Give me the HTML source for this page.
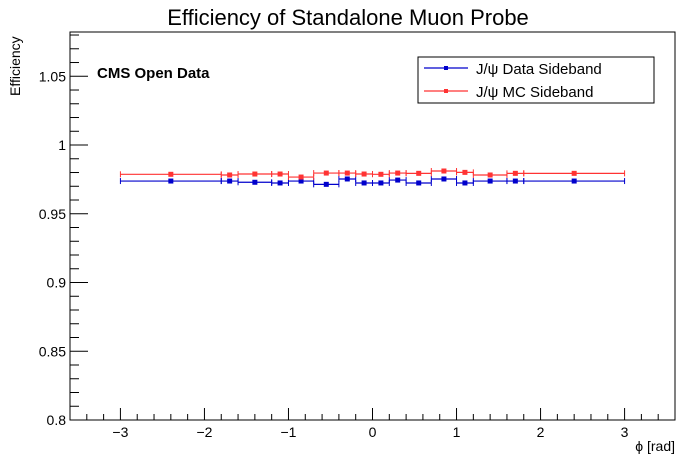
<!DOCTYPE html>
<html><head><meta charset="utf-8"><style>
body{margin:0;background:#fff;}
svg{display:block;font-family:"Liberation Sans",sans-serif;}
</style></head><body>
<svg id="c" width="696" height="472">
<rect x="0" y="0" width="696" height="472" fill="#fff"/>
<text x="348" y="25" text-anchor="middle" font-size="22">Efficiency of Standalone Muon Probe</text>
<g id="axes"></g>
<g id="marks"></g>
<text x="97" y="78" font-size="15" font-weight="bold">CMS Open Data</text>
<text transform="translate(20,96) rotate(-90)" font-size="14">Efficiency</text>
<text x="675" y="451" text-anchor="end" font-size="14">ϕ [rad]</text>
<g>
<rect x="418" y="57" width="236" height="46" fill="#fff" stroke="#000" stroke-width="1"/>
<g>
<line x1="424" y1="68" x2="468" y2="68" stroke="#0000cc" stroke-width="1.2"/>
<rect x="444" y="66" width="4" height="4" fill="#0000cc"/>
<text x="476" y="74" font-size="15">J/ψ Data Sideband</text></g>
<g>
<line x1="424" y1="91" x2="468" y2="91" stroke="#ff3333" stroke-width="1.2"/>
<rect x="444" y="89" width="4" height="4" fill="#ff3333"/>
<text x="476" y="97" font-size="15">J/ψ MC Sideband</text></g>
</g>
</svg>
<script>
const binEdges=[-3,-1.8,-1.6,-1.2,-1.0,-0.7,-0.4,-0.2,0,0.2,0.4,0.7,1.0,1.2,1.6,1.8,3];
const dataEff=[0.9738,0.9738,0.9729,0.9724,0.9738,0.9714,0.9753,0.9724,0.9724,0.9745,0.9724,0.9753,0.9724,0.9738,0.9738,0.9738];
const mcEff=[0.9787,0.9782,0.9789,0.9789,0.9767,0.9796,0.9796,0.9789,0.9787,0.9796,0.9794,0.9811,0.9801,0.9782,0.9794,0.9794];
const effErr=[0.0008,0.0008,0.0008,0.0008,0.0008,0.0008,0.0008,0.0008,0.0008,0.0008,0.0008,0.0008,0.0008,0.0008,0.0008,0.0008];
const xTicks=[-3,-2,-1,0,1,2,3];
const yTicks=[0.8,0.85,0.9,0.95,1,1.05];
const yTickLabels=["0.8","0.85","0.9","0.95","1","1.05"];
const L=70,R=675,T=32,B=420,X0=-3.6,X1=3.6,Y0=0.8,Y1=1.0822;
const sx=v=>L+(v-X0)/(X1-X0)*(R-L);
const sy=v=>B-(v-Y0)/(Y1-Y0)*(B-T);
const NS="http://www.w3.org/2000/svg";
function mk(tag,at,parent){const e=document.createElementNS(NS,tag);for(const k in at)e.setAttribute(k,at[k]);parent.appendChild(e);return e;}
const ax=document.getElementById('axes');
const fr=mk('rect',{x:L,y:T,width:R-L,height:B-T,fill:'none',stroke:'#000','stroke-width':1},ax);


for(let i=-18;i<=17;i++){const v=i*0.2;if(v<X0-1e-9||v>X1+1e-9)continue;const maj=Math.abs(v-Math.round(v))<1e-9;
 const x=sx(v);const t=mk('line',{x1:x,x2:x,y1:B,y2:B-(maj?12:6),stroke:'#000'},ax);
 
 }
xTicks.forEach(v=>{const t=mk('text',{x:sx(v),y:B+17,'text-anchor':'middle','font-size':14},ax);t.textContent=v<0?'\u2212'+(-v):String(v);
 
 });
for(let i=0;i<=28;i++){const v=0.8+i*0.01;if(v>Y1)break;const maj=i%5===0;const y=sy(v);
 const t=mk('line',{x1:L,x2:L+(maj?18:9),y1:y,y2:y,stroke:'#000'},ax);
 
 }
yTicks.forEach((v,i)=>{const t=mk('text',{x:L-4,y:sy(v)+5,'text-anchor':'end','font-size':14},ax);t.textContent=yTickLabels[i];
 
 });
const mg=document.getElementById('marks');
function series(vals,col,name){const g=mk('g',{},mg);
 
 
 vals.forEach((v,i)=>{const a=binEdges[i],b=binEdges[i+1],c=(a+b)/2,y=sy(v),x=sx(c);
  const p=mk('g',{},g);
  
  
  mk('line',{x1:sx(a),x2:sx(b),y1:y,y2:y,stroke:col,'stroke-width':1.2},p);
  mk('line',{x1:sx(a),x2:sx(a),y1:y-3,y2:y+3,stroke:col,'stroke-width':1},p);
  mk('line',{x1:sx(b),x2:sx(b),y1:y-3,y2:y+3,stroke:col,'stroke-width':1},p);
  mk('line',{x1:x,x2:x,y1:sy(v+effErr[i]),y2:sy(v-effErr[i]),stroke:col,'stroke-width':1.2},p);
  mk('rect',{x:x-2.5,y:y-2.5,width:5,height:5,fill:col},p);});}
series(dataEff,'#0000cc','data-sideband-series');
series(mcEff,'#ff3333','mc-sideband-series');
</script>
</body></html>
